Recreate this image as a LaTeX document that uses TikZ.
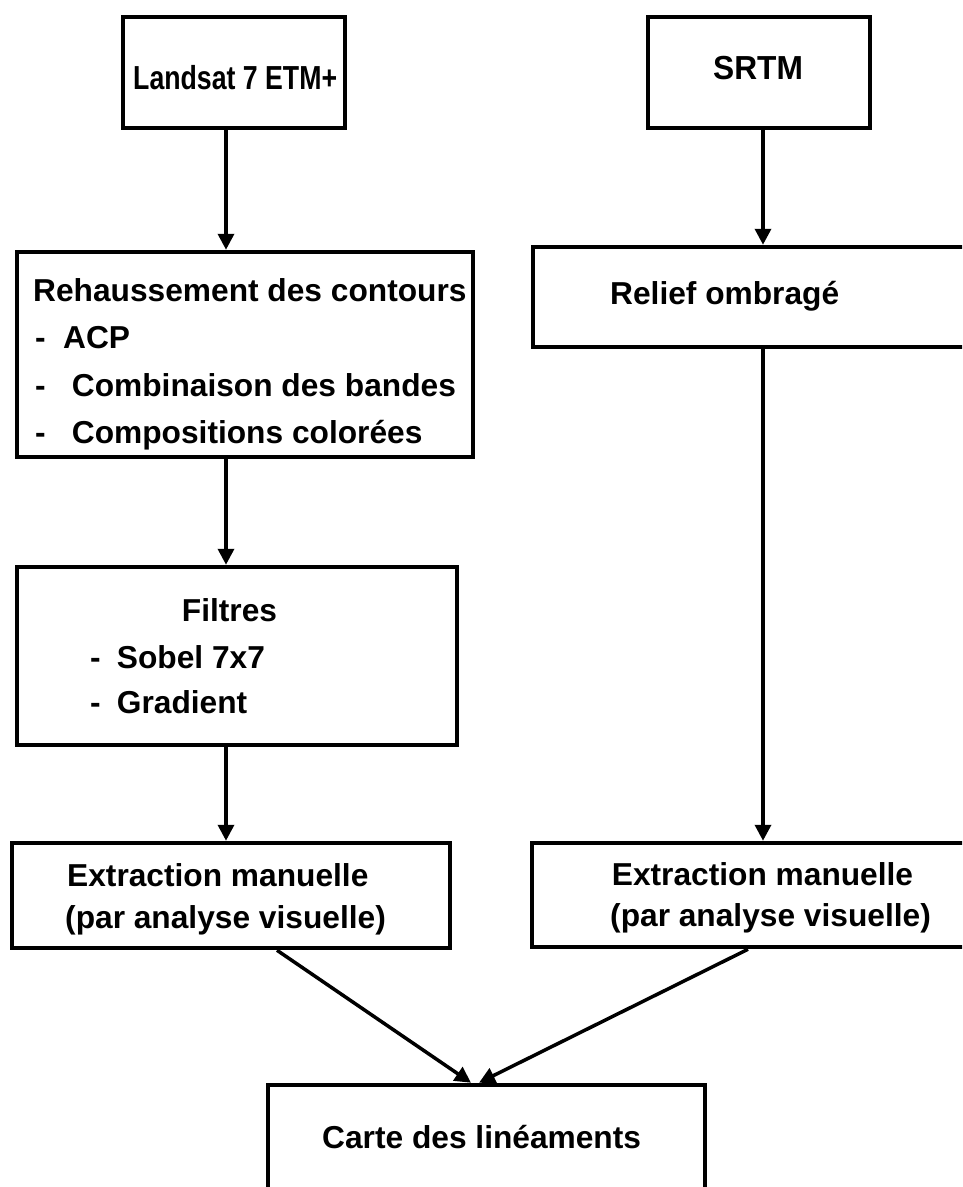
\documentclass[tikz,border=0pt]{standalone}
\usepackage{fontspec}
\setmainfont{Liberation Sans}
\usetikzlibrary{arrows.meta,positioning}
\begin{document}
\begin{tikzpicture}[x=1pt,y=-1pt,
  box/.style={draw=black,line width=4.5pt,fill=none,inner sep=0pt},
  lbl/.style={anchor=base west,inner sep=0pt,font=\fontsize{31.7pt}{38pt}\selectfont\bfseries},
  conn/.style={draw=black,line width=3.5pt,-{Triangle[length=16pt,width=16pt]}}]
\clip (0,0) rectangle (962,1187);
\useasboundingbox (0,0) rectangle (962,1187);
\fill[white] (0,0) rectangle (962,1187);
% boxes
\node[box,minimum width=222pt,minimum height=111pt] (land) at (234,72.5) {};
\node[box,minimum width=222pt,minimum height=111pt] (srtm) at (759,72.5) {};
\node[box,minimum width=456pt,minimum height=205pt] (reh) at (245,354.5) {};
\node[box,minimum width=437pt,minimum height=100pt] (rel) at (751.5,297) {};
\node[box,minimum width=440pt,minimum height=178pt] (filt) at (237,656) {};
\node[box,minimum width=438pt,minimum height=105pt] (extL) at (231,895.5) {};
\node[box,minimum width=438pt,minimum height=104pt] (extR) at (751,895) {};
\node[box,minimum width=437pt,minimum height=115pt] (carte) at (486.5,1142.5) {};
% texts
\node[lbl] (tland) at (133,89.3) {\scalebox{0.842}[1.05]{Landsat 7 ETM+}};
\node[lbl] (tsrtm) at (713,79) {\scalebox{1}[1.05]{SRTM}};
\node[lbl] (trel) at (610,304) {Relief ombragé};
\node[lbl] (treh1) at (33,301.7) {Rehaussement des contours};
\node[lbl] (treh2a) at (35,348.3) {-};
\node[lbl] (treh2b) at (63,348.3) {ACP};
\node[lbl] (treh3a) at (35,396.7) {-};
\node[lbl] (treh3b) at (71.7,396.7) {Combinaison des bandes};
\node[lbl] (treh4a) at (35,443) {-};
\node[lbl] (treh4b) at (71.7,443) {Compositions colorées};
\node[lbl] (tf1) at (181.7,621.7) {Filtres};
\node[lbl] (tf2a) at (90,668.3) {-};
\node[lbl] (tf2b) at (116.7,668.3) {Sobel 7x7};
\node[lbl] (tf3a) at (90,713.3) {-};
\node[lbl] (tf3b) at (116.7,713.3) {Gradient};
\node[lbl] (tel1) at (67,886.7) {Extraction manuelle};
\node[lbl] (tel2) at (65,928) {(par analyse visuelle)};
\node[lbl] (ter1) at (611.7,885) {Extraction manuelle};
\node[lbl] (ter2) at (610,926.7) {(par analyse visuelle)};
\node[lbl] (tcarte) at (322,1148) {Carte des linéaments};
% connector columns
\coordinate (cl) at (226,0);
\coordinate (cr) at (763,0);
\coordinate (dl) at (277,0);
\coordinate (dr) at (748,0);
\coordinate (ml) at (471,0);
\coordinate (mr) at (479,0);
\draw[conn] (land.south -| cl) -- (reh.north -| cl);
\draw[conn] (reh.south -| cl) -- (filt.north -| cl);
\draw[conn] (filt.south -| cl) -- (extL.north -| cl);
\draw[conn] (srtm.south -| cr) -- (rel.north -| cr);
\draw[conn] (rel.south -| cr) -- (extR.north -| cr);
\draw[conn] (extL.south -| dl) -- (carte.north -| ml);
\draw[conn] (extR.south -| dr) -- (carte.north -| mr);
\end{tikzpicture}
\end{document}
